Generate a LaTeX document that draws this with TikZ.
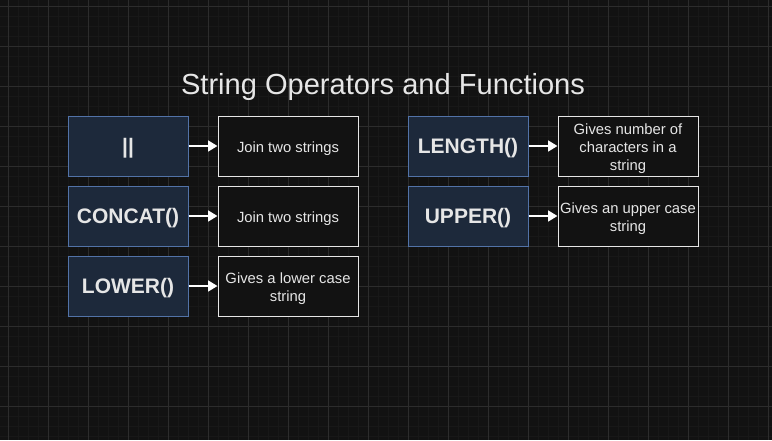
\documentclass[tikz,border=0pt]{standalone}
\usepackage{fontspec}
\setmainfont{Liberation Sans}
\usetikzlibrary{arrows.meta}
\definecolor{bg}{HTML}{121212}
\definecolor{gridminor}{HTML}{181818}
\definecolor{gridmajor}{HTML}{2C2C2C}
\definecolor{opfill}{HTML}{1D293B}
\definecolor{opline}{HTML}{5273A8}
\definecolor{descfill}{HTML}{121212}
\definecolor{txt}{HTML}{E6E6E6}
\newcommand{\lowtext}[2]{\raisebox{-#1}[\height][\depth]{\begin{tabular}{@{}c@{}}#2\end{tabular}}}
\tikzset{
  opbox/.style={draw=opline, fill=opfill, line width=0.75pt, minimum width=90pt, minimum height=45pt, inner sep=0pt, text=txt, font=\bfseries\fontsize{15.75}{18}\selectfont},
  descbox/.style={draw=txt, fill=descfill, line width=0.75pt, minimum width=105pt, minimum height=45pt, inner sep=0pt, align=center, text=txt, font=\fontsize{11.1}{13.5}\selectfont},
  arr/.style={draw=white, line width=1.6pt, -{Triangle[length=7pt,width=8pt]}},
  titletext/.style={text=txt, font=\fontsize{21.8}{26}\selectfont}
}
\begin{document}
\begin{tikzpicture}[x=0.75pt,y=-0.75pt]
\fill[bg] (0,0) rectangle (772,440);
\useasboundingbox (0,0) rectangle (772,440);
\foreach \x in {-2,8,...,772} \draw[gridminor, line width=0.75pt] (\x,0) -- (\x,440);
\foreach \y in {6,16,...,440} \draw[gridminor, line width=0.75pt] (0,\y) -- (772,\y);
\foreach \x in {8,48,...,772} \draw[gridmajor, line width=0.75pt] (\x,0) -- (\x,440);
\foreach \y in {6,46,...,440} \draw[gridmajor, line width=0.75pt] (0,\y) -- (772,\y);

\node[titletext] (title) at (383,87) {String Operators and Functions};

\node[opbox] (op1) at (128,146) {\lowtext{2.2pt}{||}};
\node[descbox] (d1) at (288,146) {\lowtext{2pt}{Join two strings}};
\node[opbox] (op2) at (128,216) {\lowtext{2.2pt}{CONCAT()}};
\node[descbox] (d2) at (288,216) {\lowtext{2pt}{Join two strings}};
\node[opbox] (op3) at (128,286) {\lowtext{2.2pt}{LOWER()}};
\node[descbox] (d3) at (288,286) {\lowtext{2pt}{Gives a lower case\\string}};
\node[opbox] (op4) at (468,146) {\lowtext{2.2pt}{LENGTH()}};
\node[descbox] (d4) at (628,146) {\lowtext{2pt}{Gives number of\\characters in a\\string}};
\node[opbox] (op5) at (468,216) {\lowtext{2.2pt}{UPPER()}};
\node[descbox] (d5) at (628,216) {\lowtext{2pt}{Gives an upper case\\string}};

\draw[arr] (op1) -- (d1);
\draw[arr] (op2) -- (d2);
\draw[arr] (op3) -- (d3);
\draw[arr] (op4) -- (d4);
\draw[arr] (op5) -- (d5);
\end{tikzpicture}
\end{document}
